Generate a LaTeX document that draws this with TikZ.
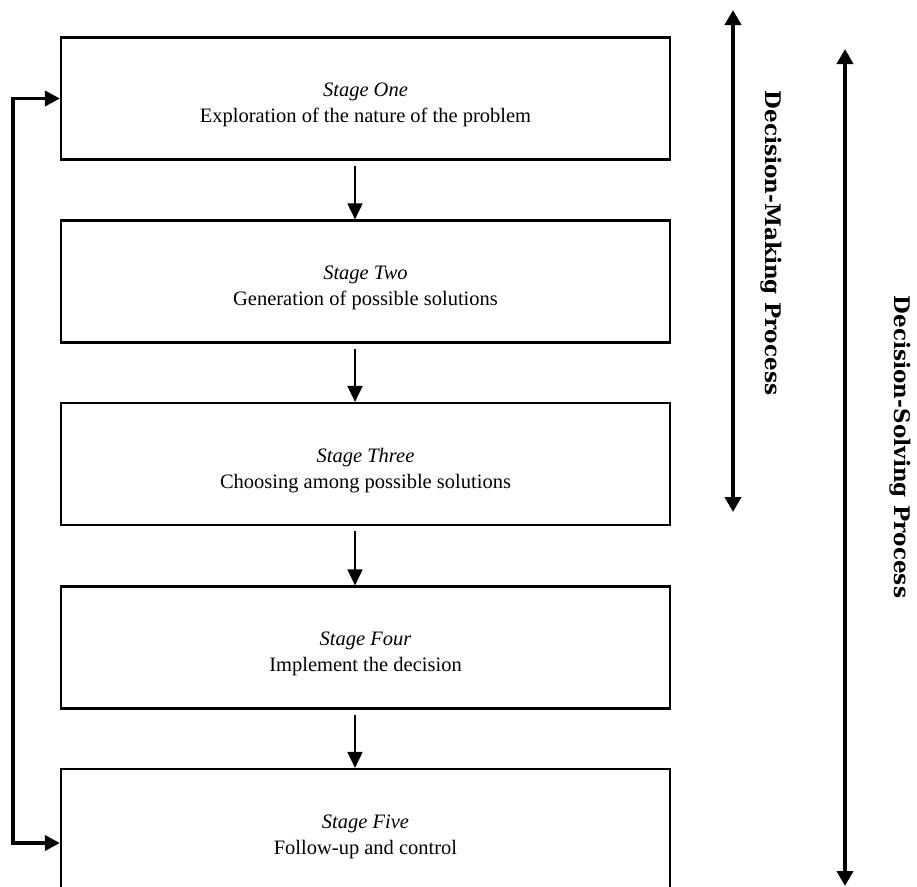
\documentclass[tikz,border=0pt]{standalone}
\usepackage{fontspec}
\setmainfont{Liberation Serif}
\newfontfamily\labelfont{DejaVu Serif}
\usetikzlibrary{arrows.meta,calc}
\newcommand{\lowstrut}{\rule{0pt}{27pt}}
\begin{document}
\begin{tikzpicture}[x=1pt,y=-1pt,
  stagebox/.style={draw,line width=2.2pt,minimum width=609pt,minimum height=122pt,
    align=center,inner sep=0pt,font=\fontsize{20.5}{26}\selectfont},
  flowarrow/.style={line width=1.8pt,-{Triangle[length=16pt,width=15pt]},shorten <=5pt},
  looparrow/.style={line width=3.5pt,{Triangle[length=15pt,width=15pt]}-{Triangle[length=15pt,width=15pt]}},
  spanarrow/.style={line width=3.8pt,{Triangle[length=15pt,width=16pt]}-{Triangle[length=15pt,width=16pt]}},
  spanlabel/.style={rotate=-90,font=\labelfont\bfseries\fontsize{21.5}{26}\selectfont,inner sep=0pt}]
\useasboundingbox (0,0) rectangle (917,886);
\node[stagebox] (s1) at (365.5,98.5) {\lowstrut\textit{Stage One}\\Exploration of the nature of the problem};
\node[stagebox] (s2) at (365.5,281.5) {\lowstrut\textit{Stage Two}\\Generation of possible solutions};
\node[stagebox] (s3) at (365.5,464) {\lowstrut\textit{Stage Three}\\Choosing among possible solutions};
\node[stagebox] (s4) at (365.5,647.5) {\lowstrut\textit{Stage Four}\\Implement the decision};
\node[stagebox] (s5) at (365.5,830) {\lowstrut\textit{Stage Five}\\Follow-up and control};
\coordinate (a1) at (355,0);
\draw[flowarrow] (s1.south -| a1) -- (s2.north -| a1);
\draw[flowarrow] (s2.south -| a1) -- (s3.north -| a1);
\draw[flowarrow] (s3.south -| a1) -- (s4.north -| a1);
\draw[flowarrow] (s4.south -| a1) -- (s5.north -| a1);
\coordinate (lt) at (13,98.5);
\coordinate (lb) at (13,843);
\draw[looparrow] (s1.west) -- (lt) -- (lb) -- (lb -| s5.west);
\coordinate (m1) at (733,10);
\coordinate (m2) at (733,512);
\coordinate (n1) at (845,49);
\coordinate (n2) at (845,886);
\draw[spanarrow] (m1) -- (m2);
\draw[spanarrow] (n1) -- (n2);
\node[spanlabel] (lm) at (771,243) {Decision-Making Process};
\node[spanlabel] (ls) at (900,447) {Decision-Solving Process};
\end{tikzpicture}
\end{document}
